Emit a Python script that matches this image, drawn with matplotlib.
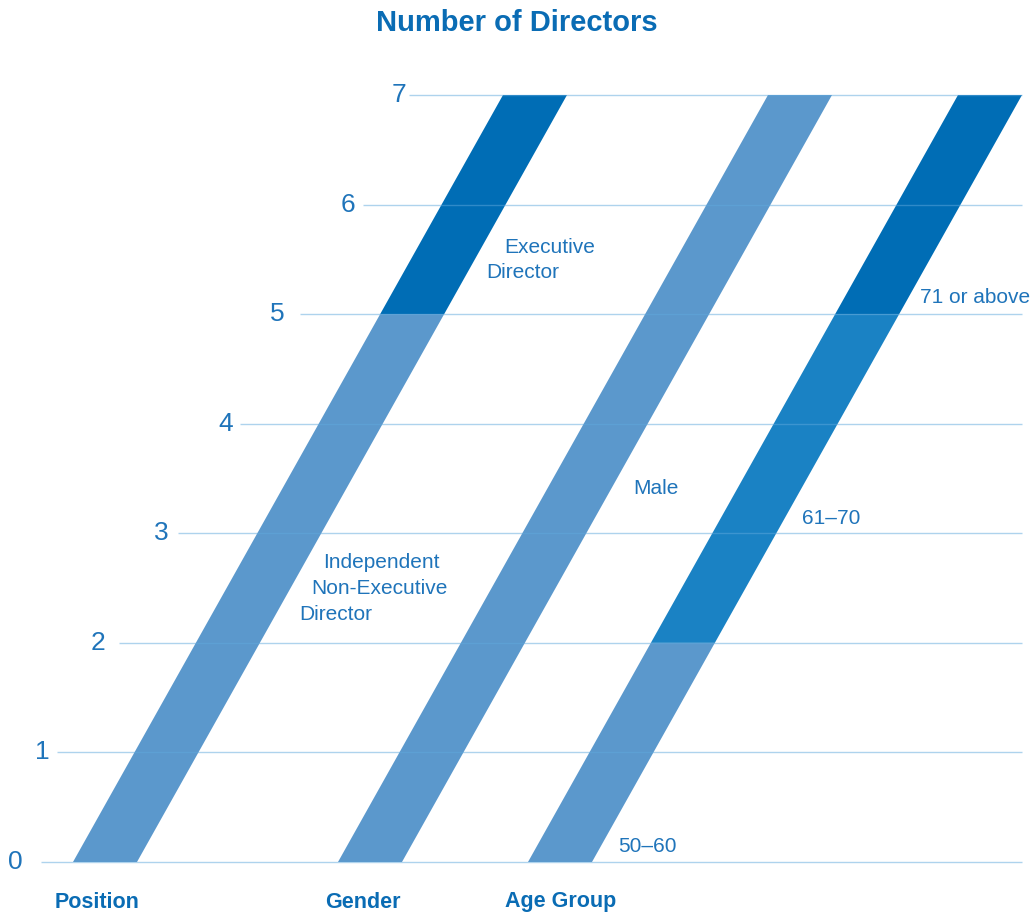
import matplotlib.pyplot as plt
from matplotlib.transforms import Affine2D

plt.rcParams['font.family'] = ['Liberation Sans', 'DejaVu Sans']

# data
groups = ["Position", "Gender", "Age Group"]
position_vals = [5, 2]            # Independent NED, Executive Director
position_labels = ["Independent\nNon-Executive\nDirector", "Executive\nDirector"]
gender_vals = [7]
gender_labels = ["Male"]
age_vals = [2, 3, 2]
age_labels = ["50\u201360", "61\u201370", "71 or above"]
yticks = [0, 1, 2, 3, 4, 5, 6, 7]

blue_txt = "#1f74ba"
light = "#5b98cc"
mid = "#1a82c4"
dark = "#006db5"

fig = plt.figure(figsize=(10.35, 9.15), dpi=100)
ax = fig.add_axes([0, 0, 1, 1])
unit = 767 / 7.0
ax.set_xlim(0, 1035)
ax.set_ylim(-53 / unit, (915 - 53) / unit)
ax.axis("off")

# skew so that each unit of height moves the bar right
shear = 430 / 7.0
skew = Affine2D([[1, shear, 0], [0, 1, 0], [0, 0, 1]]) + ax.transData

bar_w = 64
lefts = [73, 338, 528]
stacks = [(position_vals, [light, dark]),
          (gender_vals, [light]),
          (age_vals, [light, mid, dark])]
for left, (vals, cols) in zip(lefts, stacks):
    bottom = 0
    for v, c in zip(vals, cols):
        ax.bar(left, v, width=bar_w, bottom=bottom, align="edge", color=c,
               linewidth=0, transform=skew, zorder=2)
        bottom += v

# gridlines and tick labels
grid_start = [41, 57, 119, 178, 240, 300, 363, 409]
label_x = [15, 42, 98, 161, 226, 277, 348, 399]
ax.hlines(yticks, grid_start, 1022, color="#5fa8dc", alpha=0.5, lw=1, zorder=3)
for t, xs in zip(yticks, label_x):
    ax.text(xs, t, str(t), ha="center", va="center", fontsize=19,
            color=blue_txt)

def px(x, y):
    return x, (862 - y) / unit

def put(lines, pts, size=15):
    for s, (x, y) in zip(lines, pts):
        ax.text(*px(x, y), s, ha="left", va="center", fontsize=size, color=blue_txt)

put(position_labels[1].split("\n"), [(504, 247), (486, 272)])
put(position_labels[0].split("\n"), [(323, 563), (311, 588), (299, 614)])
put(gender_labels, [(633, 488)])
put([age_labels[0]], [(618, 847)])
put([age_labels[1]], [(802, 519)])
put([age_labels[2]], [(920, 297)])

for g, x in zip(groups, [55, 325, 505]):
    ax.text(*px(x, 902), g, ha="left", va="center", fontsize=15.5,
            fontweight="bold", color="#0a6cb4")

ax.text(*px(517, 23), "Number of Directors", ha="center", va="center",
        fontsize=21, fontweight="bold", color="#0a6cb4")

fig.savefig("out.png", dpi=100)
